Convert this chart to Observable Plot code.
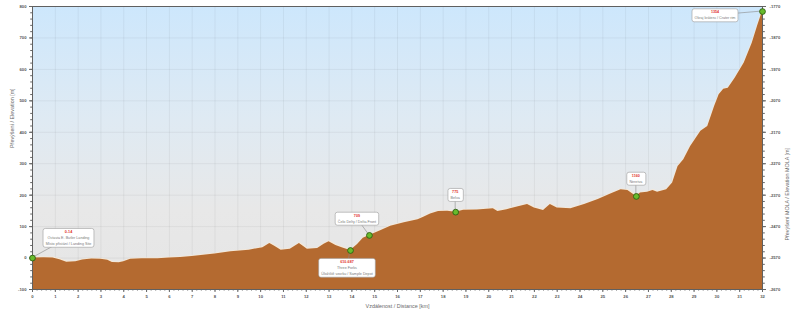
<!DOCTYPE html>
<html><head><meta charset="utf-8">
<script src="https://cdn.jsdelivr.net/npm/d3@7"></script>
<script src="https://cdn.jsdelivr.net/npm/@observablehq/plot@0.6"></script>
<style>
body{margin:0;background:#fff;}
</style></head><body>
<div id="chart"></div>
<script>
// ---- data ----
const distanceKm = [0, 0.5, 0.9, 1.2, 1.5, 1.9, 2.2, 2.6, 3.0, 3.3, 3.5, 3.8, 4.0, 4.3, 4.8, 5.5, 6.0, 6.5, 7.0, 7.5, 8.0, 8.7, 9.5, 10.1, 10.4, 10.6, 10.9, 11.3, 11.7, 12.05, 12.5, 12.8, 13.0, 13.3, 13.6, 13.94, 14.25, 14.5, 14.77, 15.26, 15.7, 16.3, 16.9, 17.15, 17.45, 17.8, 18.2, 18.55, 18.9, 19.5, 20.2, 20.4, 20.8, 21.3, 21.7, 22.0, 22.4, 22.7, 23.0, 23.6, 24.2, 24.8, 25.3, 25.8, 26.1, 26.47, 26.65, 26.96, 27.2, 27.4, 27.8, 28.06, 28.3, 28.55, 28.85, 29.3, 29.6, 29.9, 30.1, 30.3, 30.5, 30.8, 31.2, 31.55, 31.8, 32.0];
const elevationM = [0, 1, 0, -5, -13, -12, -6, -3, -4, -7, -14, -15, -12, -4, -2, -2, 0, 2, 5, 9, 13, 20, 25, 33, 46, 38, 25, 28, 46, 28, 30, 45, 52, 40, 32, 24, 43, 63, 72, 87, 101, 112, 122, 130, 140, 148, 149, 146, 152, 153, 157, 148, 154, 163, 170, 159, 151, 170, 159, 157, 170, 186, 202, 217, 215, 196, 207, 209, 215, 209, 217, 239, 291, 313, 355, 403, 418, 482, 519, 537, 540, 572, 620, 683, 741, 784];

const siteKm   = [0, 13.94, 14.77, 18.55, 26.47, 32.0];
const siteElev = [0, 24, 72, 146, 196, 784];
const siteSol  = ["0-14", "610-687", "709", "775", "1160", "1354"];
const siteName = [
  ["Octavia E. Butler Landing", "Místo přistání / Landing Site"],
  ["Three Forks", "Úložiště vzorků / Sample Depot"],
  ["Čelo Delty / Delta Front"],
  ["Belva"],
  ["Neretva"],
  ["Okraj kráteru / Crater rim"]
];

const yTicks = d3.range(-100, 801, 100);
const yMinorTicks = d3.range(-100, 801, 20);
const xTicks = d3.range(0, 33, 1);
const xMinorTicks = d3.range(0, 160.5, 1).map(d => d / 5);
const molaOffset = -2570;

const xTitle = "Vzdálenost / Distance [km]";
const yTitle = "Převýšení / Elevation [m]";
const y2Title = "Převýšení MOLA / Elevation MOLA [m]";

// label box offsets from marker (layout, px)
const labelOffset = [[36.5, -20], [-3, 17.5], [-12, -16.5], [0, -17], [0, -17.5], [-47, 4]];

// ---- build ----
const profile = distanceKm.map((d, i) => ({km: d, elev: elevationM[i]}));
const sites = siteKm.map((d, i) => ({km: d, elev: siteElev[i], sol: siteSol[i], name: siteName[i], off: labelOffset[i]}));

function annotations(index, scales) {
  const g = d3.create("svg:g");
  sites.forEach(s => {
    const px = scales.x(s.km), py = scales.y(s.elev);
    const cx = px + s.off[0], cy = py + s.off[1];
    g.append("line").attr("x1", px).attr("y1", py).attr("x2", cx).attr("y2", cy)
      .attr("stroke", "#8a8a8a").attr("stroke-width", 0.6);
    const a = g.append("g").attr("class", "ann").attr("transform", `translate(${cx},${cy})`);
    a.append("rect").attr("class", "box").attr("fill", "white").attr("stroke", "#9a9a9a")
      .attr("stroke-width", 0.6).attr("rx", 2.2);
    const t = a.append("text").attr("class", "txt").attr("text-anchor", "middle")
      .attr("font-size", 3.7).attr("font-family", "Liberation Sans, Arial, sans-serif");
    const lines = [s.sol, ...s.name];
    const n = lines.length, lh = 5.8;
    lines.forEach((ln, j) => {
      t.append("tspan").attr("x", 0).attr("y", (j - (n - 1) / 2) * lh).attr("dy", "0.35em")
        .attr("fill", j === 0 ? "#e0312a" : "#7a7a7a")
        .attr("font-weight", j === 0 ? "bold" : null).text(ln);
    });
  });
  return g.node();
}

const tickText = {fontSize: 4.2, fontWeight: "bold", fill: "#555", stroke: "#666", label: null};

const chart = Plot.plot({
  width: 798, height: 317,
  marginLeft: 32, marginRight: 36, marginTop: 6, marginBottom: 28,
  style: {fontFamily: "Liberation Sans, Arial, sans-serif", fontSize: "4.2px", background: "white", color: "#555", overflow: "visible"},
  x: {domain: [0, 32], label: null},
  y: {domain: [-100, 800], label: null},
  marks: [
    Plot.frame({fill: "url(#skyGrad)", stroke: null}),
    Plot.gridX(xTicks, {stroke: "#000", strokeOpacity: 0.05}),
    Plot.gridY(yTicks, {stroke: "#000", strokeOpacity: 0.05}),
    Plot.line(profile, {x: "km", y: "elev", stroke: "#f7e9d6", strokeWidth: 2.6}),
    Plot.areaY(profile, {x: "km", y1: () => -100, y2: "elev", fill: "#b46a30"}),
    Plot.axisY(yMinorTicks, {anchor: "left", tickSize: 1.8, tickFormat: () => "", stroke: "#666", label: null}),
    Plot.axisY(yTicks, {anchor: "left", tickSize: 3, tickPadding: 3, tickFormat: d => String(d), ...tickText}),
    Plot.axisY(yMinorTicks, {anchor: "right", tickSize: 1.8, tickFormat: () => "", stroke: "#666", label: null}),
    Plot.axisY(yTicks, {anchor: "right", tickSize: 3, tickPadding: 4, tickFormat: d => String(d + molaOffset), ...tickText}),
    Plot.axisX(xMinorTicks, {anchor: "bottom", tickSize: 1.5, tickFormat: () => "", stroke: "#666", label: null}),
    Plot.axisX(xTicks, {anchor: "bottom", tickSize: 3, tickPadding: 3, tickFormat: d => String(d), ...tickText}),
    Plot.frame({stroke: "#606060", strokeWidth: 1}),
    Plot.text([xTitle], {frameAnchor: "bottom", dy: 18, text: d => d, fontSize: 5.4, fill: "#6a6a6a"}),
    Plot.text([yTitle], {frameAnchor: "left", dx: -20, rotate: -90, text: d => d, fontSize: 5.4, fill: "#6a6a6a"}),
    Plot.text([y2Title], {frameAnchor: "right", dx: 25, rotate: -90, text: d => d, fontSize: 5.4, fill: "#6a6a6a"}),
    annotations,
    Plot.dot(sites, {x: "km", y: "elev", r: 2.9, fill: "#68bb2c", stroke: "#2f5f12", strokeWidth: 0.9})
  ]
});

const svg = d3.select(chart);
const defs = svg.insert("defs", ":first-child");
const lg = defs.append("linearGradient").attr("id", "skyGrad")
  .attr("x1", 0).attr("y1", 0).attr("x2", 0).attr("y2", 1);
[[0, "#cde7fc"], [0.4, "#dfeaf3"], [0.72, "#e8e8e8"], [1, "#e5e5e5"]].forEach(([o, c]) =>
  lg.append("stop").attr("offset", o).attr("stop-color", c));

document.getElementById("chart").append(chart);

svg.selectAll("g.ann").each(function() {
  const a = d3.select(this);
  const bb = a.select("text.txt").node().getBBox();
  a.select("rect.box").attr("x", bb.x - 2.6).attr("y", bb.y - 1.6)
    .attr("width", bb.width + 5.2).attr("height", bb.height + 3.2);
});
</script>
</body></html>
